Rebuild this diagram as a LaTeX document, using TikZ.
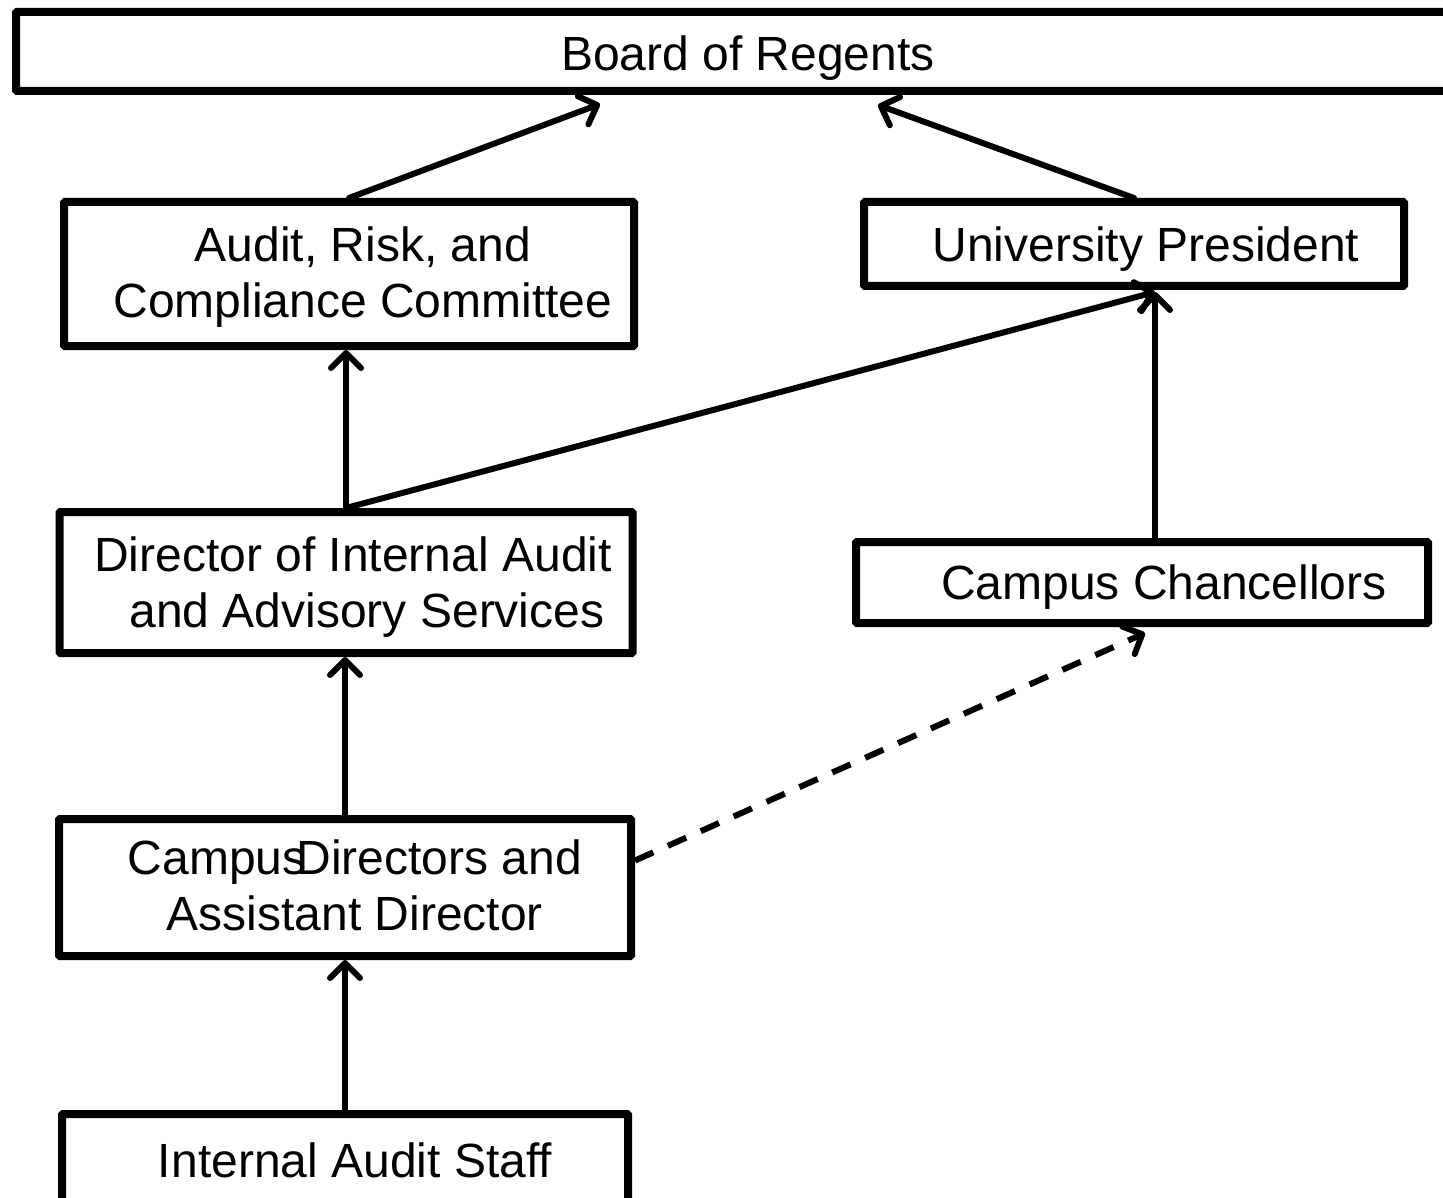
\documentclass[tikz,border=0pt]{standalone}
\usepackage{fontspec}
\setmainfont{Liberation Sans}
\usetikzlibrary{arrows.meta,calc}
\begin{document}
\begin{tikzpicture}[x=1pt,y=-1pt,
  box/.style={draw,line width=8pt,outer sep=4pt,inner sep=0pt,rounded corners=1pt},
  lbl/.style={inner sep=0pt,align=center,font=\fontsize{48}{56}\selectfont},
  link/.style={line width=6pt,line cap=round,
    -{Straight Barb[length=15pt,width=30pt,round]}},
  dotted link/.style={link,dash pattern=on 20pt off 16pt,line cap=butt}]
\useasboundingbox (0,0) rectangle (1443,1198);

% boxes
\node[box,minimum width=1464pt,minimum height=79pt]  (board) at (748,51.5) {};
\node[box,minimum width=570pt,minimum height=144pt]  (audit) at (349,274) {};
\node[box,minimum width=540pt,minimum height=84pt]   (pres)  at (1134,244) {};
\node[box,minimum width=573pt,minimum height=141pt]  (dir)   at (346,582.5) {};
\node[box,minimum width=572pt,minimum height=81pt]   (chanc) at (1142,582.5) {};
\node[box,minimum width=572pt,minimum height=137pt]  (cdir)  at (345,887.5) {};
\node[box,minimum width=566pt,minimum height=88pt]   (staff) at (345,1158) {};

% box texts
\node[lbl] (boardT) at ($(board)+(0,7)$)  {Board of Regents};
\node[lbl] (auditT) at ($(audit)+(14,3)$) {Audit, Risk, and\\Compliance Committee};
\node[lbl] (presT)  at ($(pres)+(12,5)$)  {University President};
\node[lbl] (dirT)   at ($(dir)+(7,5)$)    {Director of Internal Audit\\\hspace*{28pt}and Advisory Services};
\node[lbl] (chancT) at ($(chanc)+(22,5)$) {Campus Chancellors};
\node[lbl] (cdirT)  at ($(cdir)+(10,-2)$) {Campus\kern-10pt Directors and\\Assistant Director};
\node[lbl] (staffT) at ($(staff)+(10,2)$) {Internal Audit Staff};

\coordinate (presIn) at ([xshift=21pt,yshift=-2pt]pres.south);

% reporting lines
\draw[link] (audit.north) -- ([xshift=-148pt,yshift=-9pt]board.south);
\draw[link] (pres.north) -- ([xshift=130pt,yshift=-10pt]board.south);
\draw[link] (dir.north) -- (dir.north |- audit.south);
\draw[link] (dir.north) -- (presIn);
\draw[link] (chanc.north -| presIn) -- (presIn);
\draw[link] (cdir.north) -- (cdir.north |- dir.south);
\draw[link] (staff.north) -- (staff.north |- cdir.south);
\draw[dotted link] ([yshift=27pt]cdir.east) -- ([xshift=3pt,yshift=-6pt]chanc.south);
\end{tikzpicture}
\end{document}
